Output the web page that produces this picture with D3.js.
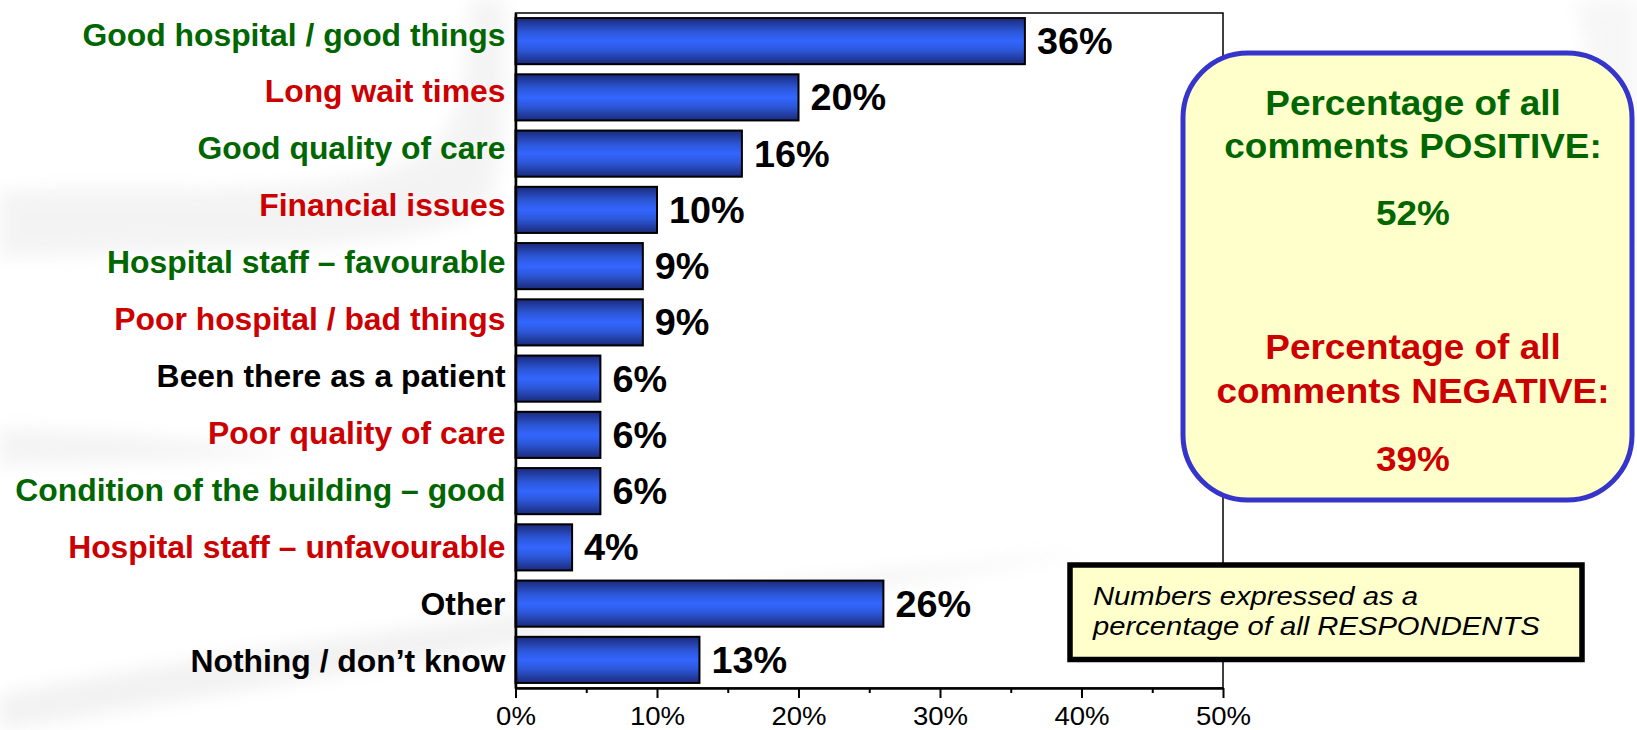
<!DOCTYPE html>
<html>
<head>
<meta charset="utf-8">
<script src="https://cdn.jsdelivr.net/npm/d3@7"></script>
<style>
  body { margin: 0; background: #ffffff; }
  svg { display: block; }
  text { font-family: "Liberation Sans", Arial, Helvetica, sans-serif; }
</style>
</head>
<body>
<svg id="chart" width="1637" height="730"></svg>
<script>
// ---- data ---------------------------------------------------------------
const categories = [
  "Good hospital / good things",
  "Long wait times",
  "Good quality of care",
  "Financial issues",
  "Hospital staff \u2013 favourable",
  "Poor hospital / bad things",
  "Been there as a patient",
  "Poor quality of care",
  "Condition of the building \u2013 good",
  "Hospital staff \u2013 unfavourable",
  "Other",
  "Nothing / don\u2019t know"
];
const values = [36, 20, 16, 10, 9, 9, 6, 6, 6, 4, 26, 13];
const sentiment = ["pos", "neg", "pos", "neg", "pos", "neg", "neutral", "neg", "pos", "neg", "neutral", "neutral"];
const xTicks = [0, 10, 20, 30, 40, 50];
const xMinorTicks = [5, 15, 25, 35, 45];
const positiveShare = 52;
const negativeShare = 39;
const summaryHeading = ["Percentage of all", "comments POSITIVE:"];
const summaryHeadingNeg = ["Percentage of all", "comments NEGATIVE:"];
const noteLines = ["Numbers expressed as a", "percentage of all RESPONDENTS"];

// ---- styling ------------------------------------------------------------
const GREEN = "#006600", RED = "#cc0000", BLACK = "#000000";
const toneColor = { pos: GREEN, neg: RED, neutral: BLACK };

const svg = d3.select("#chart");

// text drawn with a slight horizontal stretch, anchored at (x, y)
function label(parent, x, y, str, o) {
  return parent.append("text")
    .attr("transform", `translate(${x},${y}) scale(${o.sx || 1},1)`)
    .attr("text-anchor", o.anchor || "start")
    .attr("font-size", o.size)
    .attr("font-weight", o.weight || "normal")
    .attr("font-style", o.italic ? "italic" : "normal")
    .attr("fill", o.fill || BLACK)
    .text(str);
}

// ---- faint background swooshes -------------------------------------------
const defs = svg.append("defs");
defs.append("filter").attr("id", "soft")
  .attr("x", "-20%").attr("y", "-20%").attr("width", "140%").attr("height", "140%")
  .append("feGaussianBlur").attr("stdDeviation", 9);

const bg = svg.append("g").attr("filter", "url(#soft)").attr("opacity", 0.45);
bg.append("path")
  .attr("d", "M0,190 C180,185 420,208 452,120 C470,70 468,30 470,0 L505,0 C505,60 510,150 488,205 C440,255 200,248 0,258 Z")
  .attr("fill", "#e6e6e6");
bg.append("path")
  .attr("d", "M0,428 C120,432 220,442 300,455 C200,460 100,464 0,466 Z")
  .attr("fill", "#e6e6e6");
bg.append("path")
  .attr("d", "M0,695 C250,645 650,592 1100,552 C700,612 300,682 0,730 Z")
  .attr("fill", "#e2e2e2");
bg.append("path")
  .attr("d", "M1575,0 C1605,120 1620,260 1637,380 L1637,0 Z")
  .attr("fill", "#ececec");

// ---- scales -----------------------------------------------------------------
const plot = { left: 515.5, right: 1223, top: 13, bottom: 688 };

const x = d3.scaleLinear().domain([0, 50]).range([plot.left, plot.right]);
const y = d3.scaleBand().domain(categories)
  .range([plot.top, plot.bottom]).paddingInner(0.18).paddingOuter(0.09);
const bw = y.bandwidth();

// category labels sit on a slightly wider spacing than the bars
const yLabel = d3.scalePoint().domain(categories)
  .range([y(categories[0]) + bw / 2 - 6.5, y(categories[categories.length - 1]) + bw / 2 + 1]);

// ---- bar gradient -------------------------------------------------------------
const grad = defs.append("linearGradient").attr("id", "barFill")
  .attr("x1", 0).attr("y1", 0).attr("x2", 0).attr("y2", 1);
[[0, "#1b2a7a"], [0.3, "#2c57d8"], [0.5, "#3366ff"], [0.7, "#2c57d8"], [1, "#1b2a7a"]]
  .forEach(([o, c]) => grad.append("stop").attr("offset", o).attr("stop-color", c));

// ---- plot frame ------------------------------------------------------------
svg.append("rect")
  .attr("x", plot.left).attr("y", plot.top)
  .attr("width", plot.right - plot.left).attr("height", plot.bottom - plot.top)
  .attr("fill", "none").attr("stroke", BLACK).attr("stroke-width", 1.5);

// ---- bars ------------------------------------------------------------------
const rows = categories.map((c, i) => ({ cat: c, v: values[i], tone: sentiment[i] }));

svg.append("g").selectAll("rect").data(rows).join("rect")
  .attr("x", x(0))
  .attr("y", d => y(d.cat))
  .attr("width", d => x(d.v) - x(0))
  .attr("height", bw)
  .attr("fill", "url(#barFill)")
  .attr("stroke", BLACK).attr("stroke-width", 2);

// value labels
const valG = svg.append("g");
rows.forEach(d => {
  label(valG, x(d.v) + 12, y(d.cat) + bw / 2 + 0.358 * 36, d.v + "%",
    { size: 36, weight: "bold", sx: 1.05 });
});

// category labels
const catG = svg.append("g");
rows.forEach(d => {
  label(catG, plot.left - 10, yLabel(d.cat) + 0.358 * 30.5, d.cat,
    { size: 30.5, weight: "bold", anchor: "end", sx: 1.045, fill: toneColor[d.tone] });
});

// ---- axes -------------------------------------------------------------------
const minorAxis = svg.append("g")
  .attr("transform", `translate(0,${plot.bottom})`)
  .call(d3.axisBottom(x).tickValues(xMinorTicks).tickSize(5).tickFormat(""));
minorAxis.select(".domain").remove();
minorAxis.selectAll("line").attr("stroke", BLACK).attr("stroke-width", 2);

const xAxis = svg.append("g")
  .attr("transform", `translate(0,${plot.bottom})`)
  .call(d3.axisBottom(x).tickValues(xTicks).tickSize(10).tickSizeOuter(0).tickFormat(d => d + "%"));
xAxis.select(".domain").attr("stroke", BLACK).attr("stroke-width", 2.5);
xAxis.selectAll("line").attr("stroke", BLACK).attr("stroke-width", 2);
xAxis.selectAll("text")
  .attr("y", 37).attr("dy", null)
  .attr("transform", "scale(1.04,1)")
  .attr("font-family", "'Liberation Sans', Arial, sans-serif")
  .attr("font-size", 26.5).attr("fill", BLACK);

const yAxis = svg.append("g")
  .attr("transform", `translate(${plot.left},0)`)
  .call(d3.axisLeft(y).tickSize(0).tickFormat(""));
yAxis.select(".domain").attr("stroke", BLACK).attr("stroke-width", 2.5);

// ---- summary panel -----------------------------------------------------------
const panel = { x: 1183, y: 53, w: 449, h: 447, cx: 1413 };
svg.append("rect")
  .attr("x", panel.x).attr("y", panel.y)
  .attr("width", panel.w).attr("height", panel.h)
  .attr("rx", 65).attr("ry", 65)
  .attr("fill", "#ffffcc").attr("stroke", "#3535cc").attr("stroke-width", 5);

const sumG = svg.append("g");
const sumOpts = c => ({ size: 34.5, weight: "bold", anchor: "middle", sx: 1.07, fill: c });
label(sumG, panel.cx, 115, summaryHeading[0], sumOpts(GREEN));
label(sumG, panel.cx, 158, summaryHeading[1], sumOpts(GREEN));
label(sumG, panel.cx, 225, positiveShare + "%", sumOpts(GREEN));
label(sumG, panel.cx, 359, summaryHeadingNeg[0], sumOpts(RED));
label(sumG, panel.cx, 403, summaryHeadingNeg[1], sumOpts(RED));
label(sumG, panel.cx, 470.5, negativeShare + "%", sumOpts(RED));

// ---- note box -------------------------------------------------------------------
svg.append("rect")
  .attr("x", 1070).attr("y", 565).attr("width", 512).attr("height", 94.5)
  .attr("fill", "#ffffcc").attr("stroke", BLACK).attr("stroke-width", 5.5);
const noteG = svg.append("g");
noteLines.forEach((t, i) => {
  label(noteG, 1093, 605 + i * 30, t, { size: 26, italic: true, sx: 1.125 });
});
</script>
</body>
</html>
